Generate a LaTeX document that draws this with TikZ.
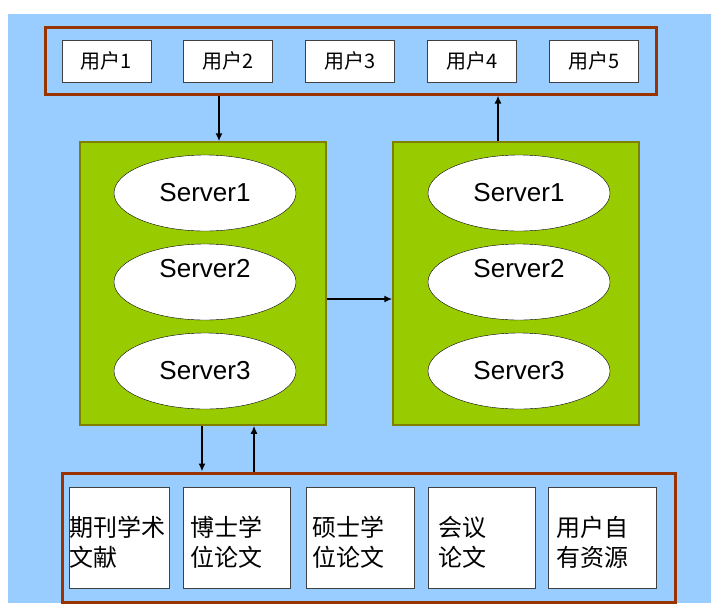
\documentclass[tikz,border=0pt]{standalone}
\usepackage{fontspec}
\setmainfont{Liberation Sans}
\newfontfamily\cjk{Noto Sans CJK SC}
\usetikzlibrary{shapes.geometric,arrows.meta}
\definecolor{skyblue}{HTML}{99CCFF}
\definecolor{framebrown}{HTML}{993300}
\definecolor{servergreen}{HTML}{99CC00}
\definecolor{serverolive}{HTML}{808000}

\tikzstyle{frame}=[draw=framebrown,line width=3pt,inner sep=0pt]
\tikzstyle{user}=[draw=black!75,fill=white,minimum width=89pt,minimum height=42pt,inner sep=0pt,font=\cjk\fontsize{20}{24}\selectfont]
\tikzstyle{server box}=[draw=serverolive,line width=1.5pt,fill=servergreen,minimum width=246pt,minimum height=283pt,inner sep=0pt]
\tikzstyle{server}=[ellipse,draw=black,fill=white,minimum width=182pt,minimum height=76pt,inner sep=0pt,font=\fontsize{26}{30}\selectfont]
\tikzstyle{resource}=[draw=black!75,fill=white,minimum height=101pt,inner sep=0pt,anchor=west]
\tikzstyle{restext}=[anchor=west,align=left,inner sep=0pt,font=\cjk\fontsize{24}{30}\selectfont]
\tikzstyle{edge}=[draw,line width=1.6pt,-{Latex[length=8pt,width=7pt]}]

\begin{document}
\begin{tikzpicture}[x=1pt,y=-1pt]
  \useasboundingbox (0,0) rectangle (711,603);
  % The blue background
  \fill[skyblue] (8,14) rectangle (711,603);

  % The frames round the users and round the resources
  \node[frame, minimum width=611pt, minimum height=67pt] (users) at (350.5,60.5) {};
  \node[frame, minimum width=613pt, minimum height=129pt] (res) at (368.5,537.5) {};

  % First the users
  \foreach \x/\n in {106.5/1, 228/2, 350/3, 472/4, 594/5}
    \node[user] (u\n) at (\x,61) {用户\n};

  % Then the two groups of servers
  \node[server box] (sl) at (203,283.5) {};
  \node[server box] (sr) at (516,283.5) {};
  \foreach \x/\s in {205/l, 519/r}
    \foreach \y/\n/\r in {193/1/0, 282/2/28, 371/3/0}
      \node[server] (s\s\n) at (\x,\y) {\raisebox{\r pt}{Server\n}};

  % The resources, text flush to the left
  \foreach \x/\w/\p/\n/\t in {69/100/0/1/{期刊学术\\文献}, 183/107/7/2/{博士学\\位论文},
      306/108/6/3/{硕士学\\位论文}, 428/107/10/4/{会议\\论文}, 548/108/8/5/{用户自\\有资源}} {
    \node[resource, minimum width=\w pt] (r\n) at (\x,537.5) {};
    \node[restext] (t\n) at ([xshift=\p pt, yshift=-4.5pt]r\n.west) {\t};
  }

  % Connect the boxes
  \draw[edge] ([xshift=16pt]sl.north |- users.south) -- ([xshift=16pt]sl.north);
  \draw[edge] ([xshift=-18pt]sr.north) -- ([xshift=-18pt]sr.north |- users.south);
  \draw[edge] ([yshift=-15.5pt]sl.east) -- ([yshift=-15.5pt]sr.west);
  \draw[edge] ([xshift=-1pt]sl.south) -- ([xshift=-1pt]sl.south |- res.north);
  \draw[edge] ([xshift=51pt]sl.south |- res.north) -- ([xshift=51pt]sl.south);
\end{tikzpicture}
\end{document}
